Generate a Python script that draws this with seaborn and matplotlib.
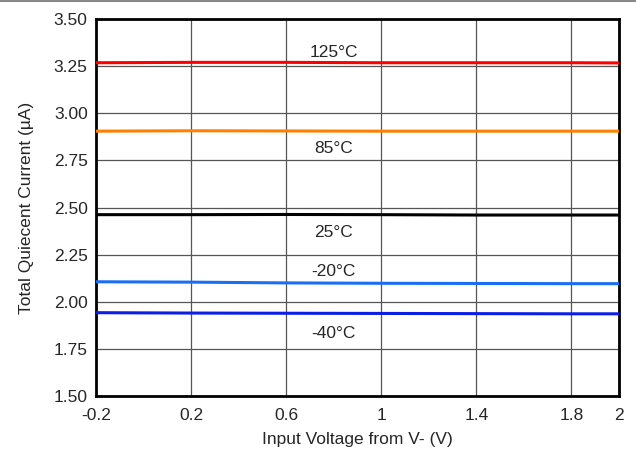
import pandas as pd
import matplotlib.pyplot as plt
import matplotlib.lines as mlines
import seaborn as sns
import numpy as np

# Data
vin = [-0.2, 0.2, 0.6, 1.0, 1.4, 1.8, 2.0]
iq_125 = [3.268, 3.270, 3.270, 3.268, 3.268, 3.268, 3.267]
iq_85 = [2.905, 2.907, 2.906, 2.905, 2.905, 2.905, 2.905]
iq_25 = [2.462, 2.462, 2.463, 2.462, 2.460, 2.460, 2.460]
iq_m20 = [2.106, 2.104, 2.100, 2.098, 2.097, 2.096, 2.096]
iq_m40 = [1.942, 1.940, 1.939, 1.938, 1.937, 1.936, 1.936]

temps = ['125°C', '85°C', '25°C', '-20°C', '-40°C']
series = [iq_125, iq_85, iq_25, iq_m20, iq_m40]
colors = ['#FF0000', '#FF8000', '#000000', '#1A6EF5', '#0A1EE6']
label_x = [0.8, 0.8, 0.8, 0.8, 0.8]
label_y = [3.32, 2.815, 2.37, 2.16, 1.83]

df = pd.DataFrame({
    'vin': vin * len(temps),
    'iq': np.concatenate(series),
    'temp': np.repeat(temps, len(vin)),
})

sns.set_style('white')
plt.rcParams['font.family'] = ['Liberation Sans', 'DejaVu Sans']

fig = plt.figure(figsize=(6.36, 4.53), dpi=100)
ax = fig.add_axes([96 / 636, 57 / 453, 523 / 636, 377 / 453])

sns.lineplot(data=df, x='vin', y='iq', hue='temp', palette=dict(zip(temps, colors)),
             linewidth=2.2, legend=False, ax=ax, zorder=3)

for t, lx, ly in zip(temps, label_x, label_y):
    ax.text(lx, ly, t, ha='center', va='center', fontsize=12.5)

ax.set_xlim(-0.2, 2.0)
ax.set_ylim(1.5, 3.5)
ax.set_xticks([-0.2, 0.2, 0.6, 1.0, 1.4, 1.8, 2.0])
ax.set_xticklabels(['-0.2', '0.2', '0.6', '1', '1.4', '1.8', '2'])
ax.set_yticks(np.arange(1.5, 3.51, 0.25))
ax.set_yticklabels([f'{v:.2f}' for v in np.arange(1.5, 3.51, 0.25)])
ax.tick_params(labelsize=12.5, length=0)
ax.tick_params(axis='x', pad=9)
ax.tick_params(axis='y', pad=6)
ax.grid(True, color='#555555', linewidth=0.9)
ax.set_axisbelow(True)
for s in ax.spines.values():
    s.set_color('black')
    s.set_linewidth(2)

ax.set_xlabel('Input Voltage from V- (V)', fontsize=12.5, labelpad=6)
ax.set_ylabel('Total Quiecent Current (µA)', fontsize=12.5, labelpad=14)

# thin rule at the top of the figure
fig.add_artist(mlines.Line2D([0, 1], [0.997, 0.997], color='#888888', linewidth=1.5,
                             transform=fig.transFigure))

plt.savefig('out.png', dpi=100)
